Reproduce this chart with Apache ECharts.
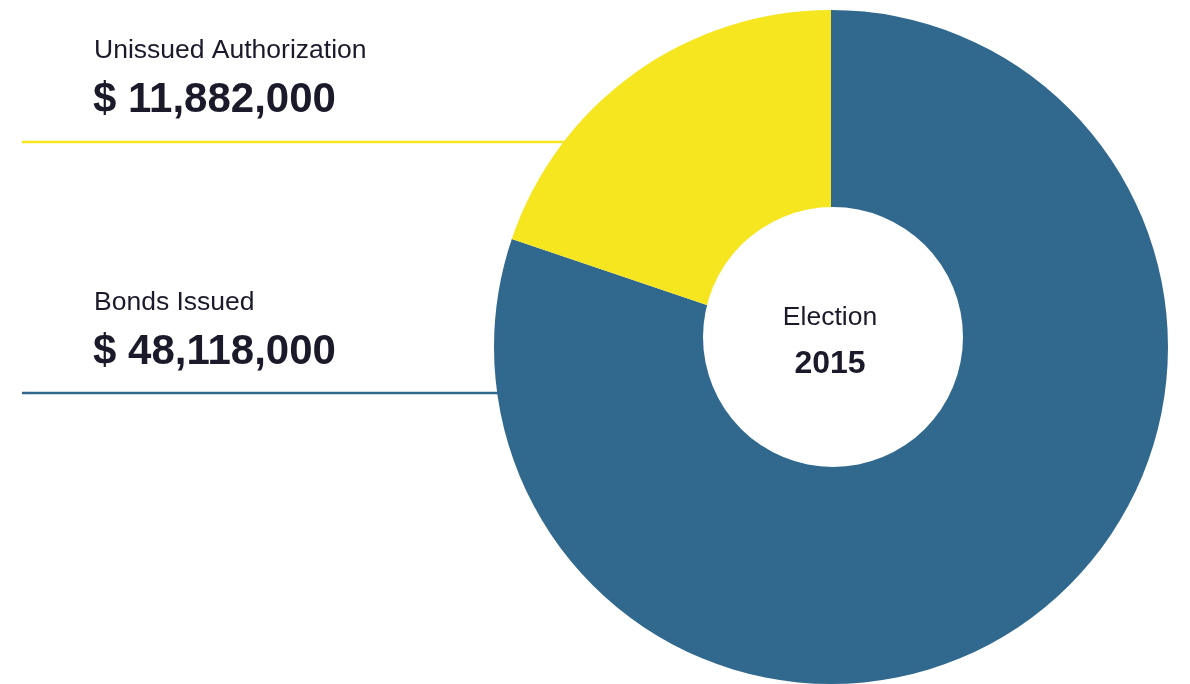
<!DOCTYPE html>
<html>
<head>
<meta charset="utf-8">
<script src="https://cdn.jsdelivr.net/npm/echarts@6/dist/echarts.min.js"></script>
<style>
  html, body { margin: 0; padding: 0; background: #fff; }
  #main { width: 1190px; height: 684px; }
</style>
</head>
<body>
<div id="main"></div>
<script>
// data
var names = ['Bonds Issued', 'Unissued Authorization'];
var values = [48118000, 11882000];
var colors = ['#31698e', '#f6e620'];
var centerTitle = 'Election';
var centerYear = '2015';

var textColor = '#1a1a2b';
var family = 'Arial, "Liberation Sans", Helvetica, sans-serif';
var fmt = function(v) { return '$ ' + v.toLocaleString('en-US'); };

var myChart = echarts.init(document.getElementById('main'));

// left side captions: unissued on top, bonds below
var captions = [
    { idx: 1, mid: 51, line: 142 },
    { idx: 0, mid: 303, line: 393 }
];
var graphics = [];
captions.forEach(function(c) {
    graphics.push({
        type: 'text', x: 94, y: c.mid, z: 5,
        style: { text: names[c.idx], fill: textColor, fontFamily: family, fontSize: 26.5,
                 verticalAlign: 'middle' }
    });
    graphics.push({
        type: 'text', x: 93, y: c.mid + 49, z: 5,
        style: { text: fmt(values[c.idx]), fill: textColor, fontFamily: family, fontSize: 42,
                 fontWeight: 'bold', verticalAlign: 'middle' }
    });
    graphics.push({
        type: 'line', z: 0,
        shape: { x1: 22, y1: c.line, x2: 700, y2: c.line },
        style: { stroke: colors[c.idx], lineWidth: 2.5 }
    });
});
// hole of the donut
graphics.push({
    type: 'circle', z: 10,
    shape: { cx: 833, cy: 337, r: 130 },
    style: { fill: '#fff' }
});
graphics.push({
    type: 'text', z: 11, x: 830, y: 318,
    style: { text: centerTitle, fill: textColor, align: 'center', verticalAlign: 'middle',
             fontFamily: family, fontSize: 26.5 }
});
graphics.push({
    type: 'text', z: 11, x: 830, y: 364,
    style: { text: centerYear, fill: textColor, align: 'center', verticalAlign: 'middle',
             fontFamily: family, fontSize: 32, fontWeight: 'bold' }
});

var option = {
    animation: false,
    backgroundColor: '#fff',
    graphic: graphics,
    series: [{
        type: 'pie',
        z: 2,
        silent: true,
        center: [831, 347],
        radius: [0, 337],
        startAngle: 90,
        clockwise: true,
        label: { show: false },
        labelLine: { show: false },
        itemStyle: { borderWidth: 0 },
        data: names.map(function(n, i) {
            return { name: n, value: values[i], itemStyle: { color: colors[i] } };
        })
    }]
};
myChart.setOption(option);
</script>
</body>
</html>
